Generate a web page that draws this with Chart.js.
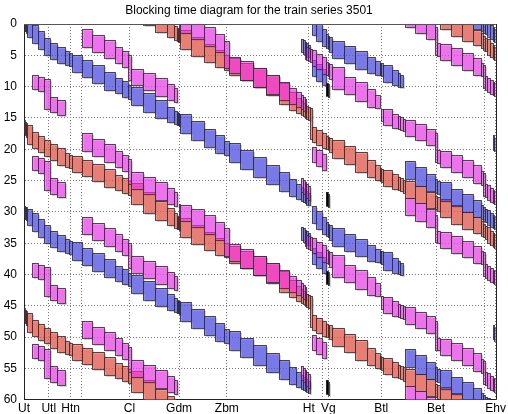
<!DOCTYPE html>
<html>
<head>
<meta charset="utf-8">
<script src="https://cdn.jsdelivr.net/npm/chart.js@4.4.1/dist/chart.umd.min.js"></script>
<style>
  html, body { margin: 0; padding: 0; background: #fff; }
</style>
</head>
<body>
<canvas id="grafico" width="508" height="414"></canvas>
<script>
// stations along the line (km from Utrecht), '' = unlabeled grid line
const stationNames = ['Ut', 'Utl', 'Htn', '', 'Cl', 'Gdm', 'Zbm', 'Ht', '', 'Vg', 'Btl', 'Bet', '', 'Ehv'];
const stationKm = [0, 4.2, 7.9, 9.8, 17.9, 26.3, 34.4, 48.3, 50.6, 51.6, 60.6, 69.9, 78.1, 80];
const timeTicks = [0, 5, 10, 15, 20, 25, 30, 35, 40, 45, 50, 55, 60];

// block signals (km)
const signalKm = [0, 0.15, 0.3, 0.5, 1.3, 2.3, 3.4, 4.4, 5.6, 7.0, 7.7, 8.1, 9.8, 11.6, 13.5, 15.4,
  16.6, 17.6, 18.2, 20.2, 22.3, 24.2, 25.4, 25.9, 26.1, 26.3, 26.5, 28.4, 30.5, 32.4, 34.0, 34.7,
  36.7, 38.9, 41.1, 43.2, 45.0, 46.2, 46.9, 47.3, 47.6, 47.9, 48.2, 48.5, 48.8, 49.6, 50.5, 51.3,
  51.5, 51.7, 52.3, 54.2, 56.2, 58.1, 59.6, 60.3, 60.6, 60.9, 62.4, 63.4, 63.8, 64.2, 64.6, 66.4,
  68.2, 69.7, 70.1, 70.5, 72.4, 74.3, 76.2, 77.5, 77.9, 78.2, 78.5, 79.1, 79.5, 79.8, 80];

// train paths: [km, minutes after departure] and departure minutes
const pathBlueUtHt = [[0, 0], [4.4, 4.1], [10, 6.8], [18.4, 11.1], [26.3, 15.3], [31.9, 18.5], [39.8, 22.8], [43.7, 24.9], [48.3, 28.0]];
const depBlueUtHt = [0.5, 30.5];
const pathBlueHtBtl = [[48.8, 0], [52.2, 3.5], [56.7, 5.5], [60.6, 7.2], [64.0, 9.1]];
const depBlueHtBtl = [0.6, 30.6];
const pathBlueBtlEhv = [[64.6, 0], [67.3, 1.5], [71.9, 4.2], [76.5, 6.3], [80, 9]];
const depBlueBtlEhv = [-6.6, 23.4, 53.4];
const pathBlueHtIn = [[47.0, 0], [48.3, 1.0]];
const depBlueHtIn = [3.9, 33.9];
const pathBlueHtOut = [[48.9, 0], [51.3, 2.0]];
const depBlueHtOut = [7.3, 37.3];
const pathBlueEhv = [[79.5, 0], [80, 0.6]];
const depBlueEhv = [19.3, 49.6];

const pathRed = [[0, 0], [1.5, 2.1], [4.4, 3.7], [7.3, 5.3], [10, 6.4], [12.8, 7.5], [15.7, 8.8], [18.4, 10.1],
  [21.3, 12.3], [24.1, 13.9], [26.3, 15.5], [29.7, 17.5], [32.6, 18.8], [35.3, 20.3], [39.8, 21.9], [43.7, 24.4],
  [47.8, 27.6], [48.6, 28.1], [48.6, 30.9], [52, 32.9], [56.2, 35.1], [60.6, 37.8], [66.3, 40.4], [70.7, 42.6],
  [74.1, 44.5], [77.5, 46.1], [80, 48.5]];
const depRed = [-43.1, -13.1, 16.9, 46.9];

const pathMagUtl = [[1.4, 0], [4.2, 1.0], [4.2, 3.4], [6.6, 4.6]];
const depMagUtl = [9.6, 22.6, 39.6, 52.6];
const pathMagCl = [[9.8, 0], [12, 1.1], [14.5, 2.3], [16.3, 3.3], [17.9, 4.4], [17.9, 6.2], [21.5, 7.5], [24, 8.7], [25.8, 9.7]];
const depMagCl = [2.3, 18.9, 32.3, 48.9];
const pathMagGdmHt = [[26.4, 0], [29.5, 1.1], [31.9, 2.5], [34.4, 4.1], [34.4, 6.3], [36.5, 7], [39.8, 8.7], [43.7, 10.7], [46.6, 12.3], [47.8, 13.3]];
const depMagGdmHt = [0.3, 30.3];
const pathMagHtBtl = [[47.6, 0], [48.6, 0.7], [50.5, 1.9], [51.6, 2.9], [53.8, 4.9], [56.7, 6.1], [59.9, 8.1]];
const depMagHtBtl = [4.9, 34.9];
const pathMagBtlEhvA = [[60.6, 0], [63.3, 1.2], [66.3, 2.5], [69.3, 3.6], [69.9, 4.0], [69.9, 6.5], [72.9, 7.6], [76.1, 9], [77.8, 10.2], [78.1, 10.5], [78.1, 12], [80, 13.3]];
const depMagBtlEhvA = [15, 45];
const pathMagBtlEhvB = [[64.6, 0], [66.3, 0.8], [69.5, 2.5], [69.9, 2.9], [69.9, 5.1], [72.9, 6.3], [76.1, 7.5], [77.8, 8.6], [78.1, 8.8], [78.1, 10.5], [80, 11.8]];
const depMagBtlEhvB = [-0.7, 29.3, 59.3];
const pathMagHtIn = [[47.0, 0], [48.5, 1.6]];
const depMagHtIn = [26.1, 56.1];
const pathMagHtOut = [[49, 0], [51.3, 1.8]];
const depMagHtOut = [21.1, 51.1];

const pathVg = [[51.3, 0], [51.7, 0.4]];
const depVg = [10.9, 28.4, 40.9, 58.4];

const approach = 1.5;
const release = 0.4;

const blue = 'rgba(55,55,245,0.58)';
const red = 'rgba(248,60,45,0.56)';
const magenta = 'rgba(255,45,255,0.58)';

function enterTime(path, km) {
  if (km <= path[0][0]) return path[0][1];
  for (let i = 0; i < path.length - 1; i++) {
    const [k0, t0] = path[i], [k1, t1] = path[i + 1];
    if (k1 > k0 && km <= k1) return t0 + (t1 - t0) * (km - k0) / (k1 - k0);
  }
  return path[path.length - 1][1];
}

function blocksFor(path, dep) {
  const s = path[0][0], e = path[path.length - 1][0], tEnd = path[path.length - 1][1];
  const out = [];
  for (let i = 0; i < signalKm.length - 1; i++) {
    const a = signalKm[i], b = signalKm[i + 1];
    if (b <= s || a >= e) continue;
    const t0 = enterTime(path, Math.max(a, s)) - approach;
    const t1 = (b >= e ? tEnd : enterTime(path, b)) + release;
    out.push([a, b, dep + t0, dep + t1]);
  }
  return out;
}

const lines = [
  [pathRed, depRed, red],
  [pathBlueUtHt, depBlueUtHt, blue],
  [pathBlueHtBtl, depBlueHtBtl, blue],
  [pathBlueBtlEhv, depBlueBtlEhv, blue],
  [pathBlueHtIn, depBlueHtIn, blue],
  [pathBlueHtOut, depBlueHtOut, blue],
  [pathBlueEhv, depBlueEhv, blue],
  [pathMagUtl, depMagUtl, magenta],
  [pathMagCl, depMagCl, magenta],
  [pathMagGdmHt, depMagGdmHt, magenta],
  [pathMagHtBtl, depMagHtBtl, magenta],
  [pathMagBtlEhvA, depMagBtlEhvA, magenta],
  [pathMagBtlEhvB, depMagBtlEhvB, magenta],
  [pathMagHtIn, depMagHtIn, magenta],
  [pathMagHtOut, depMagHtOut, magenta],
  [pathVg, depVg, '#000']
];

const datasets = [];
lines.forEach(([path, deps, color]) => {
  deps.forEach(dep => {
    datasets.push({
      data: path.map(p => ({ x: p[0], y: p[1] + dep })),
      blocks: blocksFor(path, dep),
      fillColor: color,
      pointRadius: 0,
      showLine: false
    });
  });
});

// draws the blocking time rectangles through the chart scales
const blockPlugin = {
  id: 'blocks',
  beforeDatasetsDraw(chart) {
    const { ctx, chartArea: a, scales: { x, y } } = chart;
    const rects = [];
    chart.data.datasets.forEach(ds => ds.blocks.forEach(b => {
      const x0 = Math.round(x.getPixelForValue(b[0]));
      const x1 = Math.round(x.getPixelForValue(b[1]));
      const y0 = Math.round(y.getPixelForValue(b[2]));
      const y1 = Math.round(y.getPixelForValue(b[3]));
      rects.push([x0, y0, Math.max(1, x1 - x0), y1 - y0, ds.fillColor]);
    }));
    ctx.save();
    ctx.beginPath();
    ctx.rect(a.left, a.top, a.width, a.height);
    ctx.clip();
    ctx.fillStyle = 'rgba(160,160,160,0.45)';
    rects.forEach(r => ctx.fillRect(r[0] + 2, r[1] + 2, r[2], r[3]));
    ctx.lineWidth = 1;
    ctx.strokeStyle = 'rgba(45,45,45,0.8)';
    rects.forEach(r => {
      ctx.fillStyle = r[4];
      ctx.fillRect(r[0], r[1], r[2], r[3]);
      ctx.strokeRect(r[0] + 0.5, r[1] + 0.5, r[2], r[3]);
    });
    ctx.restore();
  },
  afterDraw(chart) {
    const { ctx, chartArea: a } = chart;
    ctx.save();
    ctx.lineWidth = 1;
    ctx.strokeStyle = '#555';
    ctx.beginPath();
    ctx.moveTo(a.left, a.top + 0.5);
    ctx.lineTo(a.right, a.top + 0.5);
    ctx.stroke();
    ctx.strokeStyle = '#222';
    ctx.beginPath();
    ctx.moveTo(Math.round(a.right) + 0.5, a.top);
    ctx.lineTo(Math.round(a.right) + 0.5, a.bottom);
    ctx.stroke();
    ctx.restore();
  }
};

const fontFamily = '"Liberation Sans", Arial, Helvetica, sans-serif';

new Chart(document.getElementById('grafico').getContext('2d'), {
  type: 'scatter',
  data: { datasets: datasets },
  plugins: [blockPlugin],
  options: {
    responsive: false,
    animation: false,
    devicePixelRatio: 1,
    layout: { padding: { left: 0, right: 10, top: 0, bottom: 0 } },
    plugins: {
      legend: { display: false },
      tooltip: { enabled: false },
      title: {
        display: true,
        text: 'Blocking time diagram for the train series 3501',
        color: '#000',
        font: { family: fontFamily, size: 12, weight: 'normal' },
        padding: { top: 3, bottom: 6.6 }
      }
    },
    scales: {
      x: {
        type: 'linear',
        min: 0,
        max: 80,
        afterBuildTicks: s => { s.ticks = stationKm.map(v => ({ value: v })); },
        afterFit: s => { s.height = 14; },
        ticks: {
          autoSkip: false,
          maxRotation: 0,
          padding: 2,
          color: '#000',
          font: { family: fontFamily, size: 12 },
          callback: v => {
            const i = stationKm.indexOf(v);
            return i >= 0 ? stationNames[i] : '';
          }
        },
        grid: { color: '#7a7a7a', drawTicks: false },
        border: { color: '#222', dash: [1, 2] }
      },
      y: {
        type: 'linear',
        reverse: true,
        min: 0,
        max: 60,
        afterBuildTicks: s => { s.ticks = timeTicks.map(v => ({ value: v })); },
        afterFit: s => { s.width = 24; },
        ticks: {
          padding: 7,
          color: '#000',
          font: { family: fontFamily, size: 12 }
        },
        grid: { color: '#7a7a7a', drawTicks: false },
        border: { color: '#222', dash: [1, 2] }
      }
    }
  }
});
</script>
</body>
</html>
